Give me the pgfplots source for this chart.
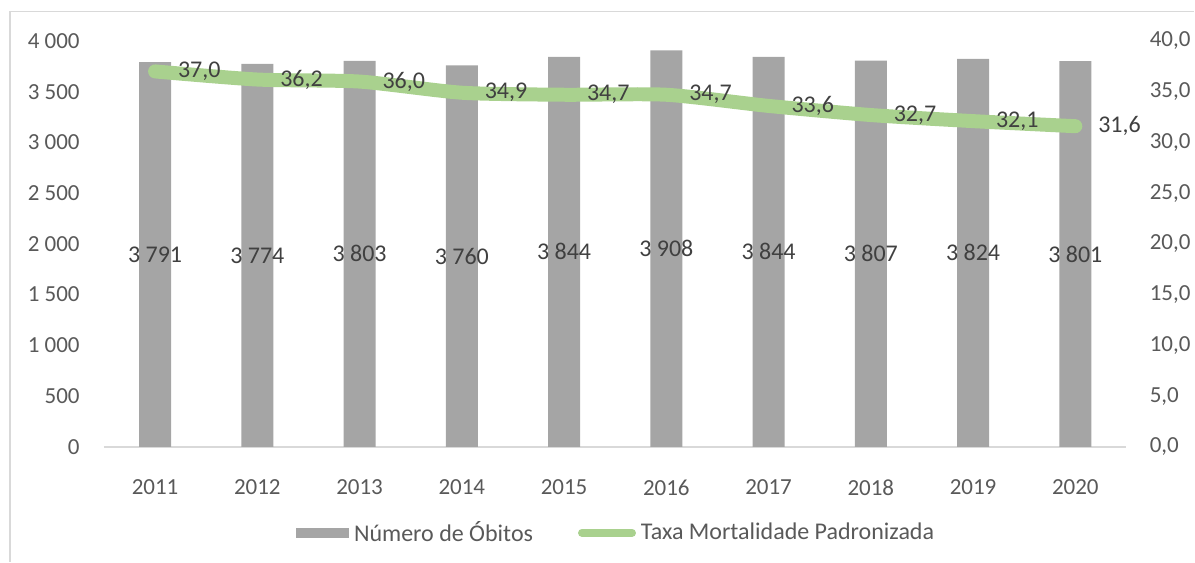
\documentclass[border=0pt]{standalone}
\usepackage{fontspec}
\setmainfont{Carlito}
\usepackage{pgfplots}
\pgfplotsset{compat=1.18}

\definecolor{barcol}{HTML}{A5A5A5}
\definecolor{linecol}{HTML}{A9D18E}
\definecolor{tickcol}{HTML}{595959}
\definecolor{labcol}{HTML}{404040}
\definecolor{framecol}{HTML}{D9D9D9}

\pgfplotsset{
  common/.style={
    at={(52pt,57.5pt)}, anchor=south west,
    width=511.5pt, height=203pt, scale only axis,
    xmin=-0.5, xmax=9.5,
    font=\fontsize{11.5}{13}\selectfont,
    tick style={draw=none},
    /pgf/number format/assume math mode=true,
    tick label style={text=tickcol},
  }
}

\begin{document}
\begin{tikzpicture}[x=1pt,y=1pt]
\path (0,0) rectangle (597.5,281);
\draw[framecol, line width=0.6pt] (5,0) -- (5,275.2) -- (597.5,275.2);

% bars, left axis
\begin{axis}[common,
  axis x line*=bottom, axis y line*=left,
  x axis line style={-, framecol, line width=1pt},
  y axis line style={draw=none},
  ymin=0, ymax=4000, ytick={0,500,...,4000},
  /pgf/number format/1000 sep={\ },
  y tick label style={inner sep=0pt, anchor=east, xshift=-12pt},
  xtick={0,...,9},
  xticklabels={2011,2012,2013,2014,2015,2016,2017,2018,2019,2020},
  x tick label style={inner sep=0pt, anchor=north, yshift=-12pt},
  ybar, bar width=16pt,
  nodes near coords,
  visualization depends on=y \as \rawy,
  nodes near coords style={font=\fontsize{12}{14}\selectfont, text=labcol,
    anchor=center, shift={(axis direction cs:0,-\rawy/2)}},
]
\addplot[fill=barcol, draw=none] coordinates {
  (0,3791) (1,3774) (2,3803) (3,3760) (4,3844)
  (5,3908) (6,3844) (7,3807) (8,3824) (9,3801)};
\end{axis}

% line, right axis
\begin{axis}[common,
  axis y line*=right, axis x line=none,
  y axis line style={draw=none},
  ymin=0, ymax=40, ytick={0,5,...,40},
  y tick label style={inner sep=0pt, anchor=west, xshift=11.5pt,
    /pgf/number format/.cd, fixed, fixed zerofill, precision=1, use comma},
  legend style={at={(0.5,-0.212)}, anchor=center, draw=none, fill=none,
    legend columns=2, font=\fontsize{12}{14}\selectfont, text=tickcol,
    nodes={inner sep=0pt},
    /tikz/every odd column/.append style={column sep=2.5pt},
    /tikz/every even column/.append style={column sep=22.5pt}},
]
\addlegendimage{legend image code/.code={\fill[barcol] (0pt,-2.2pt) rectangle (26pt,2.2pt);}}
\addlegendentry{Número de Óbitos}
\addplot[linecol, line width=7pt, line cap=round, line join=round, smooth, tension=0.4,
  nodes near coords,
  nodes near coords style={font=\fontsize{12}{14}\selectfont, text=labcol,
    anchor=west, inner sep=0pt, outer sep=0pt, line width=0.4pt, xshift=11.5pt,
    /pgf/number format/.cd, fixed, fixed zerofill, precision=1, use comma},
  legend image code/.code={\draw[linecol, line width=4pt, line cap=round] (2pt,0pt) -- (27pt,0pt);}
  ] coordinates {
  (0,37.0) (1,36.2) (2,36.0) (3,34.9) (4,34.7)
  (5,34.7) (6,33.6) (7,32.7) (8,32.1) (9,31.6)};
\addlegendentry{Taxa Mortalidade Padronizada}
\end{axis}
\end{tikzpicture}
\end{document}
